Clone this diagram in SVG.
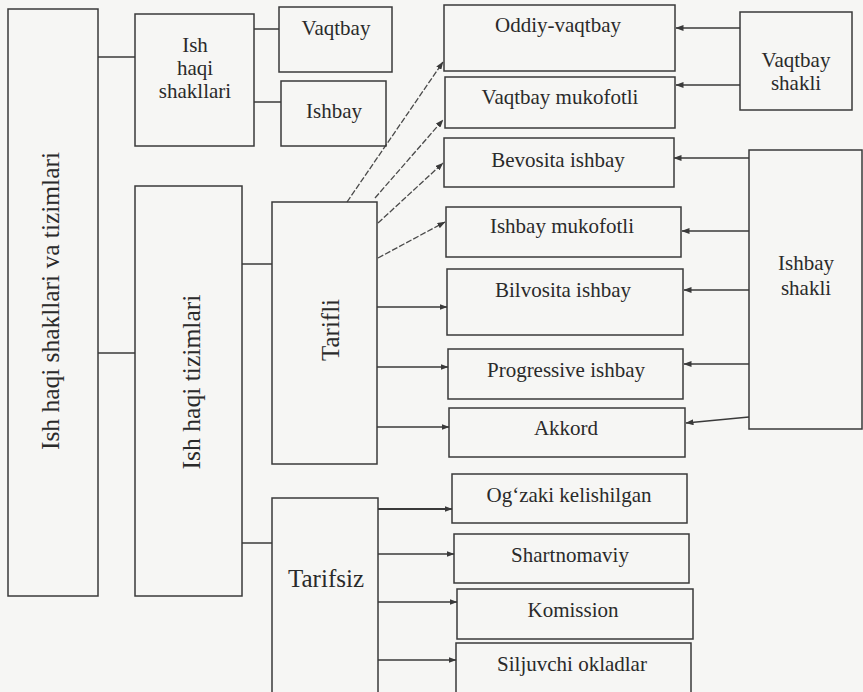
<svg xmlns="http://www.w3.org/2000/svg" width="863" height="692" viewBox="0 0 863 692">
<defs>
<marker id="ah" markerWidth="8" markerHeight="6" refX="7.5" refY="3" orient="auto" markerUnits="userSpaceOnUse">
<path d="M0,0 L8,3 L0,6 z" fill="#3a3a3a"/>
</marker>
<style>
.box{fill:none;stroke:#3a3a3a;stroke-width:1.5}
.t{font-size:21px;fill:#2a2a2a;text-anchor:middle}
.tv{font-size:25px;fill:#2a2a2a;text-anchor:middle}
.ln{stroke:#3a3a3a;stroke-width:1.5;fill:none}
.ar{stroke:#3a3a3a;stroke-width:1.5;fill:none;marker-end:url(#ah)}
.dg{stroke:#4a4a4a;stroke-width:1.3;fill:none;stroke-dasharray:6 2;marker-end:url(#ah)}
</style>
</defs>
<rect width="863" height="692" fill="#f6f6f4"/>

<g id="connectors">
<line class="ln" x1="98" y1="57" x2="135" y2="57"/>
<line class="ln" x1="98" y1="353" x2="135" y2="353"/>
<line class="ln" x1="254" y1="29" x2="279" y2="29"/>
<line class="ln" x1="254" y1="102" x2="281" y2="102"/>
<line class="ln" x1="242" y1="264" x2="272" y2="264"/>
<line class="ln" x1="242" y1="543" x2="272" y2="543"/>

<line class="dg" x1="347" y1="202" x2="443" y2="62"/>
<line class="dg" x1="375" y1="198" x2="443" y2="120"/>
<line class="dg" x1="378" y1="223" x2="443" y2="163"/>
<line class="dg" x1="378" y1="258" x2="445" y2="222"/>

<line class="ar" x1="377" y1="307" x2="447" y2="307"/>
<line class="ar" x1="377" y1="367" x2="448" y2="367"/>
<line class="ar" x1="377" y1="427" x2="449" y2="427"/>

<line class="ar" x1="378" y1="509" x2="452" y2="509" style="stroke-width:2.2"/>
<line class="ar" x1="378" y1="554" x2="454" y2="554"/>
<line class="ar" x1="378" y1="602" x2="457" y2="602"/>
<line class="ar" x1="378" y1="660" x2="456" y2="660"/>

<line class="ar" x1="740" y1="28" x2="676" y2="28"/>
<line class="ar" x1="740" y1="85" x2="676" y2="85"/>
<line class="ar" x1="749" y1="158" x2="674" y2="158"/>
<line class="ar" x1="749" y1="231" x2="682" y2="231"/>
<line class="ar" x1="749" y1="290" x2="684" y2="290"/>
<line class="ar" x1="749" y1="364" x2="684" y2="364"/>
<line class="ar" x1="749" y1="417" x2="686" y2="423"/>
</g>

<g font-family="Liberation Serif, Times New Roman, serif">
<g id="node-main">
<rect class="box" x="8" y="9" width="90" height="587"/>
<text class="tv" transform="translate(59,301) rotate(-90)" textLength="298" lengthAdjust="spacingAndGlyphs">Ish haqi shakllari va tizimlari</text>
</g>

<g id="node-shakllari">
<rect class="box" x="135" y="14" width="119" height="132"/>
<text class="t" x="195" y="52">Ish</text>
<text class="t" x="195" y="75">haqi</text>
<text class="t" x="195" y="98">shakllari</text>
</g>

<g id="node-vaqtbay">
<rect class="box" x="279" y="7" width="113" height="65"/>
<text class="t" x="336" y="35">Vaqtbay</text>
</g>

<g id="node-ishbay">
<rect class="box" x="281" y="81" width="105" height="65"/>
<text class="t" x="334" y="118">Ishbay</text>
</g>

<g id="node-tizimlari">
<rect class="box" x="135" y="186" width="107" height="410"/>
<text class="tv" transform="translate(200,382) rotate(-90)" textLength="175" lengthAdjust="spacingAndGlyphs">Ish haqi tizimlari</text>
</g>

<g id="node-tarifli">
<rect class="box" x="272" y="202" width="105" height="262"/>
<text class="tv" transform="translate(339,330) rotate(-90)">Tarifli</text>
</g>

<g id="node-tarifsiz">
<rect class="box" x="272" y="498" width="106" height="196"/>
<text class="tv" x="326" y="587">Tarifsiz</text>
</g>

<g id="node-oddiy">
<rect class="box" x="444" y="5" width="231" height="66"/>
<text class="t" x="558" y="32">Oddiy-vaqtbay</text>
</g>

<g id="node-vaqtbay-mukofotli">
<rect class="box" x="445" y="77" width="230" height="51"/>
<text class="t" x="560" y="104">Vaqtbay mukofotli</text>
</g>

<g id="node-bevosita">
<rect class="box" x="444" y="138" width="230" height="49"/>
<text class="t" x="558" y="167">Bevosita ishbay</text>
</g>

<g id="node-ishbay-mukofotli">
<rect class="box" x="446" y="207" width="235" height="50"/>
<text class="t" x="562" y="233">Ishbay mukofotli</text>
</g>

<g id="node-bilvosita">
<rect class="box" x="447" y="269" width="236" height="66"/>
<text class="t" x="563" y="297">Bilvosita ishbay</text>
</g>

<g id="node-progressive">
<rect class="box" x="448" y="349" width="235" height="50"/>
<text class="t" x="566" y="377">Progressive ishbay</text>
</g>

<g id="node-akkord">
<rect class="box" x="449" y="408" width="236" height="49"/>
<text class="t" x="566" y="435">Akkord</text>
</g>

<g id="node-ogzaki">
<rect class="box" x="452" y="474" width="235" height="49"/>
<text class="t" x="569" y="502">Og‘zaki kelishilgan</text>
</g>

<g id="node-shartnomaviy">
<rect class="box" x="454" y="534" width="235" height="49"/>
<text class="t" x="570" y="562">Shartnomaviy</text>
</g>

<g id="node-komission">
<rect class="box" x="457" y="589" width="236" height="50"/>
<text class="t" x="573" y="617">Komission</text>
</g>

<g id="node-siljuvchi">
<rect class="box" x="456" y="643" width="235" height="51"/>
<text class="t" x="572" y="671">Siljuvchi okladlar</text>
</g>

<g id="node-vaqtbay-shakli">
<rect class="box" x="740" y="12" width="112" height="98"/>
<text class="t" x="796" y="67">Vaqtbay</text>
<text class="t" x="796" y="90">shakli</text>
</g>

<g id="node-ishbay-shakli">
<rect class="box" x="749" y="150" width="113" height="279"/>
<text class="t" x="806" y="270">Ishbay</text>
<text class="t" x="806" y="295">shakli</text>
</g>
</g>
</svg>
